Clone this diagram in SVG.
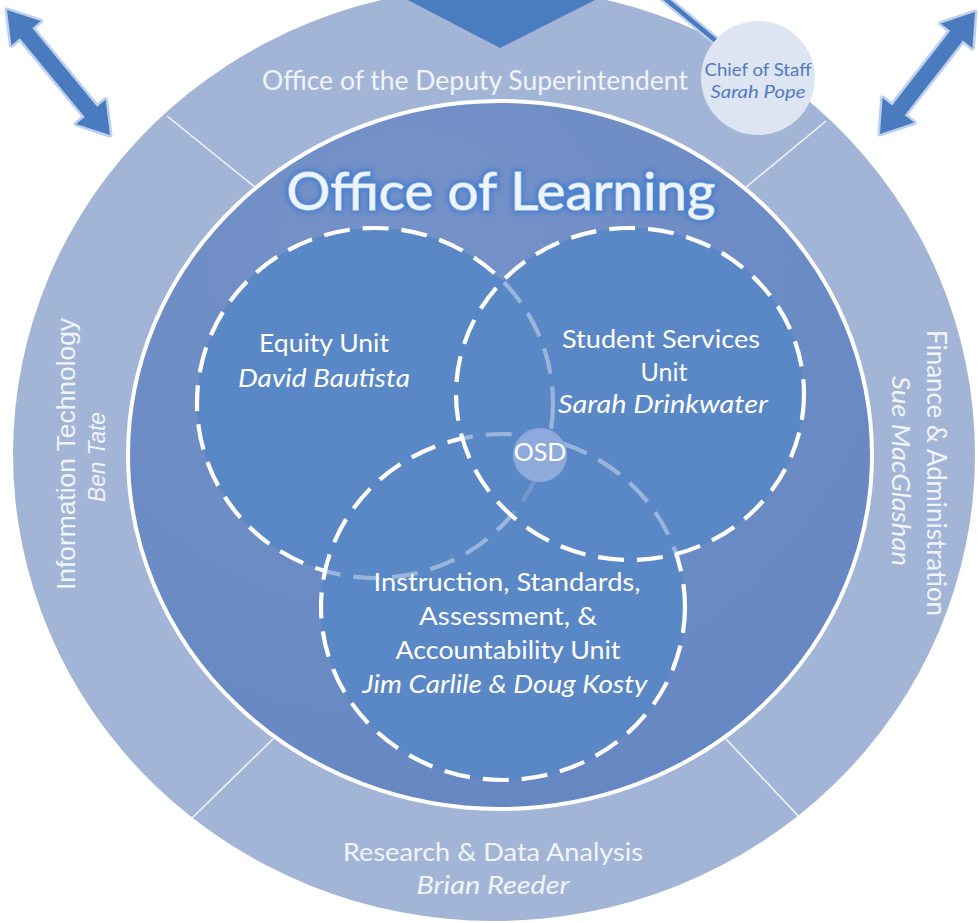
<svg xmlns="http://www.w3.org/2000/svg" width="979" height="923" viewBox="0 0 979 923">
<defs>
<radialGradient id="lg" cx="38%" cy="22%" r="85%">
<stop offset="0" stop-color="#7692c8"/>
<stop offset="1" stop-color="#6587c2"/>
</radialGradient>
<filter id="glow" x="-10%" y="-30%" width="120%" height="160%">
<feGaussianBlur stdDeviation="2.5"/>
</filter>
</defs>
<style>
.ring{fill:#a3b5d7}
.div{stroke:#ffffff;stroke-width:1.6;stroke-opacity:.85}
.rt{font-family:Lato,"Open Sans",sans-serif;fill:#f1f4fa;text-anchor:middle}
.ar{font-family:"Liberation Sans",Arial,sans-serif;fill:#f1f4fa;text-anchor:middle}
.uf{fill:#5a87c5}
.dash{fill:none;stroke:#ffffff;stroke-width:4.2;stroke-dasharray:26 13}
.t{font-family:Lato,"Open Sans",sans-serif;fill:#ffffff;font-size:25px;text-anchor:middle}
.i{font-style:italic}
.dbl{fill:#4a7bbf;stroke:#bcd0ee;stroke-width:5;stroke-linejoin:round;paint-order:stroke}
</style>

<g id="outer-ring">
<ellipse class="ring" cx="494" cy="454" rx="481" ry="467"/>
<line class="div" x1="167" y1="116" x2="256" y2="188"/>
<line class="div" x1="826" y1="121" x2="745" y2="188"/>
<line class="div" x1="190" y1="820" x2="273" y2="739"/>
<line class="div" x1="802" y1="820" x2="726" y2="739"/>
</g>

<g id="deputy">
<text class="rt" x="475" y="90" font-size="27" textLength="426" lengthAdjust="spacingAndGlyphs">Office of the Deputy Superintendent</text>
</g>
<g id="it">
<text class="ar" transform="translate(75,454) rotate(-90)" font-size="26" textLength="272" lengthAdjust="spacingAndGlyphs">Information Technology</text>
<text class="ar i" transform="translate(105,457) rotate(-90)" font-size="24" textLength="90" lengthAdjust="spacingAndGlyphs">Ben Tate</text>
</g>
<g id="finance">
<text class="rt" transform="translate(927,473) rotate(90)" font-size="27" textLength="286" lengthAdjust="spacingAndGlyphs">Finance &amp; Administration</text>
<text class="rt i" transform="translate(892,471) rotate(90)" font-size="25" textLength="190" lengthAdjust="spacingAndGlyphs">Sue MacGlashan</text>
</g>
<g id="research">
<text class="rt" x="493" y="861" font-size="25" textLength="300" lengthAdjust="spacingAndGlyphs">Research &amp; Data Analysis</text>
<text class="rt i" x="493" y="894" font-size="25" textLength="153" lengthAdjust="spacingAndGlyphs">Brian Reeder</text>
</g>

<g id="learning">
<ellipse cx="500" cy="455" rx="372" ry="354" fill="url(#lg)" stroke="#ffffff" stroke-width="4"/>
<text x="501" y="210" font-family="Lato,'Open Sans',sans-serif" font-size="52" text-anchor="middle" textLength="429" lengthAdjust="spacingAndGlyphs" fill="none" stroke="#3d7ad0" stroke-width="6" stroke-opacity="0.8" filter="url(#glow)">Office of Learning</text>
<text x="501" y="210" font-family="Lato,'Open Sans',sans-serif" font-size="52" text-anchor="middle" textLength="429" lengthAdjust="spacingAndGlyphs" fill="#eef4fc" stroke="#a9c7ee" stroke-width="1.5" paint-order="stroke">Office of Learning</text>
</g>

<g id="unit-fills">
<ellipse class="uf" cx="375" cy="403" rx="178" ry="175"/>
<ellipse class="uf" cx="630" cy="394" rx="174" ry="166"/>
<ellipse class="uf" cx="503" cy="607" rx="182" ry="173"/>
</g>
<g id="equity">
<ellipse class="dash" cx="375" cy="403" rx="178" ry="175"/>
</g>
<g id="instruction">
<ellipse class="uf" cx="503" cy="607" rx="182" ry="173" fill-opacity="0.62"/>
<ellipse class="dash" cx="503" cy="607" rx="182" ry="173"/>
</g>
<g id="student">
<ellipse class="uf" cx="630" cy="394" rx="174" ry="166" fill-opacity="0.62"/>
<ellipse class="dash" cx="630" cy="394" rx="174" ry="166"/>
</g>
<g id="osd">
<circle cx="540" cy="455" r="27" fill="#8eaadc"/>
<text class="t" x="540" y="461" font-size="18">OSD</text>
</g>
<g id="equity-label">
<text class="t" x="324" y="352" textLength="130" lengthAdjust="spacingAndGlyphs">Equity Unit</text>
<text class="t i" x="324" y="387" textLength="172" lengthAdjust="spacingAndGlyphs">David Bautista</text>
</g>
<g id="student-label">
<text class="t" x="661" y="348" textLength="198" lengthAdjust="spacingAndGlyphs">Student Services</text>
<text class="t" x="664" y="381">Unit</text>
<text class="t i" x="663" y="413" textLength="210" lengthAdjust="spacingAndGlyphs">Sarah Drinkwater</text>
</g>
<g id="instruction-label">
<text class="t" x="507" y="591" textLength="267" lengthAdjust="spacingAndGlyphs">Instruction, Standards,</text>
<text class="t" x="508" y="625" textLength="178" lengthAdjust="spacingAndGlyphs">Assessment, &amp;</text>
<text class="t" x="508" y="659" textLength="225" lengthAdjust="spacingAndGlyphs">Accountability Unit</text>
<text class="t i" x="505" y="693" textLength="285" lengthAdjust="spacingAndGlyphs">Jim Carlile &amp; Doug Kosty</text>
</g>

<g id="connectors">
<polygon points="404,-2 599,-2 500,48" fill="#4a7cc0"/>
<line x1="662" y1="-4" x2="716" y2="41" stroke="#bcd0ee" stroke-width="9"/>
<line x1="662" y1="-4" x2="716" y2="41" stroke="#4a7bbf" stroke-width="4.5"/>
<polygon class="dbl" points="7,10 11.4,45.3 19.9,38.3 84.7,116.9 76.2,123.9 110,135 105.6,99.7 97.1,106.7 32.3,28.1 40.8,21.1"/>
<polygon class="dbl" points="975,12 940.8,23.4 950.3,30.8 892.1,105.4 882.6,98 880,134 914.2,122.6 904.7,115.2 962.9,40.6 972.4,48"/>
</g>

<g id="chief">
<circle cx="758" cy="78" r="57" fill="#dde5f2"/>
<text x="758" y="76" font-family="Lato,'Open Sans',sans-serif" font-size="17" fill="#4f7bc0" text-anchor="middle" textLength="107" lengthAdjust="spacingAndGlyphs">Chief of Staff</text>
<text x="758" y="98" font-family="Lato,'Open Sans',sans-serif" font-size="17" font-style="italic" fill="#4f7bc0" text-anchor="middle" textLength="95" lengthAdjust="spacingAndGlyphs">Sarah Pope</text>
</g>
</svg>
